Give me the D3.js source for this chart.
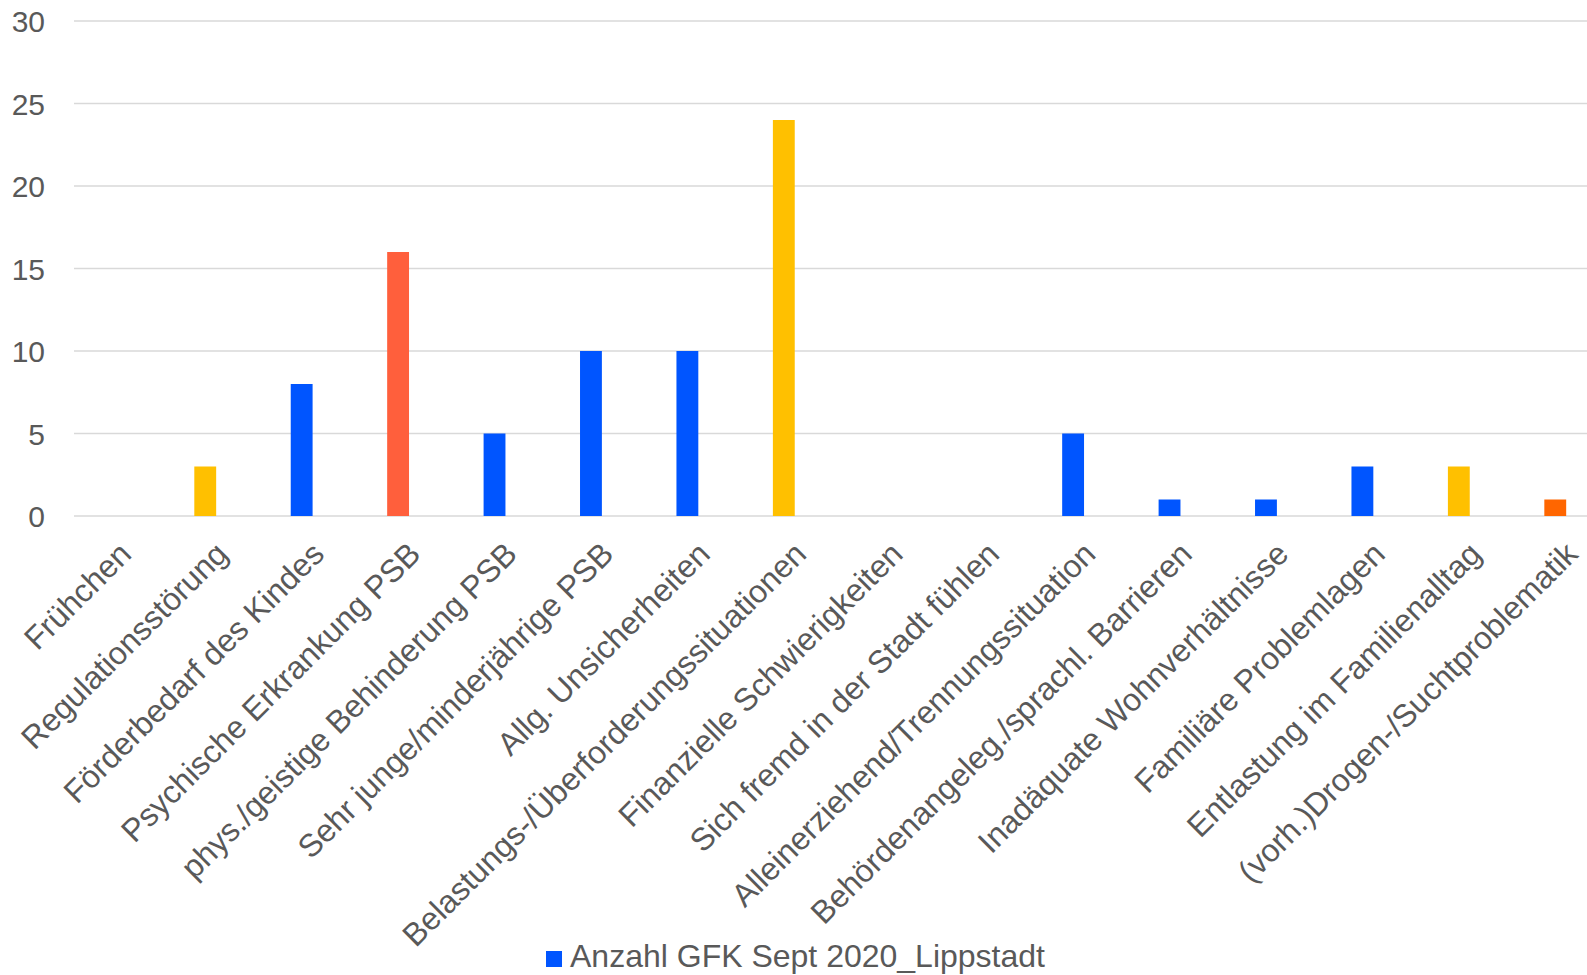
<!DOCTYPE html>
<html lang="de">
<head>
<meta charset="utf-8">
<script src="https://cdn.jsdelivr.net/npm/d3@7"></script>
<style>
  html, body { margin: 0; padding: 0; background: #ffffff; }
  svg { display: block; }
  text { font-family: "Liberation Sans", Arial, sans-serif; fill: #595959; }
</style>
</head>
<body>
<svg id="chart" width="1587" height="975"></svg>
<script>
// Kategorien (Anlässe) und Anzahl der Fälle
const categories = [
  "Frühchen",
  "Regulationsstörung",
  "Förderbedarf des Kindes",
  "Psychische Erkrankung PSB",
  "phys./geistige Behinderung PSB",
  "Sehr junge/minderjährige PSB",
  "Allg. Unsicherheiten",
  "Belastungs-/Überforderungssituationen",
  "Finanzielle Schwierigkeiten",
  "Sich fremd in der Stadt fühlen",
  "Alleinerziehend/Trennungssituation",
  "Behördenangeleg./sprachl. Barrieren",
  "Inadäquate Wohnverhältnisse",
  "Familiäre Problemlagen",
  "Entlastung im Familienalltag",
  "(vorh.)Drogen-/Suchtproblematik"
];
const values = [0, 3, 8, 16, 5, 10, 10, 24, 0, 0, 5, 1, 1, 3, 3, 1];
const barColors = [
  "#0055ff", "#ffc000", "#0055ff", "#ff5f3c", "#0055ff", "#0055ff", "#0055ff", "#ffc000",
  "#0055ff", "#0055ff", "#0055ff", "#0055ff", "#0055ff", "#0055ff", "#ffc000", "#ff6600"
];
const seriesName = "Anzahl GFK Sept 2020_Lippstadt";
const seriesColor = "#0055ff";
const yTicks = [0, 5, 10, 15, 20, 25, 30];

const svg = d3.select("#chart");
const W = 1587;
const plot = { left: 74, top: 21, bottom: 516, step: 96.43 };
const labelSize = 32;

const x = d3.scaleBand()
  .domain(categories)
  .range([plot.left, plot.left + plot.step * categories.length])
  .paddingInner(0).paddingOuter(0);

// two slots per category; the series occupies the first one
const slot = d3.scaleBand()
  .domain([0, 1])
  .range([0, x.bandwidth()])
  .paddingInner(0.185)
  .paddingOuter(0.89);

const y = d3.scaleLinear().domain([0, 30]).range([plot.bottom, plot.top]);

// Gitternetzlinien
svg.append("g")
  .selectAll("line")
  .data(yTicks)
  .join("line")
  .attr("x1", plot.left)
  .attr("x2", W)
  .attr("y1", d => y(d))
  .attr("y2", d => y(d))
  .attr("stroke", "#d9d9d9")
  .attr("stroke-width", 1.6);

// Y-Achsenbeschriftung
const yAxis = d3.axisLeft(y).tickValues(yTicks).tickSize(0).tickPadding(0);
const gy = svg.append("g").attr("transform", "translate(45,0)").call(yAxis);
gy.select(".domain").remove();
gy.selectAll("text")
  .attr("font-size", 30)
  .attr("font-family", "Liberation Sans, Arial, sans-serif")
  .attr("fill", "#595959")
  .attr("dy", "0.36em");

// Balken
svg.append("g")
  .selectAll("rect")
  .data(categories)
  .join("rect")
  .attr("x", d => x(d) + slot(0))
  .attr("width", slot.bandwidth())
  .attr("y", (d, i) => y(values[i]))
  .attr("height", (d, i) => y(0) - y(values[i]))
  .attr("fill", (d, i) => barColors[i]);

// Kategorienbeschriftung, um 45° gedreht
svg.append("g")
  .selectAll("text")
  .data(categories)
  .join("text")
  .attr("transform", d => `translate(${x(d) + x.bandwidth() / 2 + 3},548) rotate(-45)`)
  .attr("text-anchor", "end")
  .attr("dy", "0.35em")
  .attr("font-size", labelSize)
  .text(d => d);

// Legende, waagerecht zentriert
const legend = svg.append("g");
legend.append("rect").attr("width", 16).attr("height", 16).attr("y", -16).attr("fill", seriesColor);
const legendText = legend.append("text")
  .attr("x", 24)
  .attr("y", 0)
  .attr("font-size", labelSize)
  .text(seriesName);
const legendWidth = 24 + legendText.node().getComputedTextLength();
legend.attr("transform", `translate(${(W - legendWidth) / 2 + 2},967)`);
</script>
</body>
</html>
